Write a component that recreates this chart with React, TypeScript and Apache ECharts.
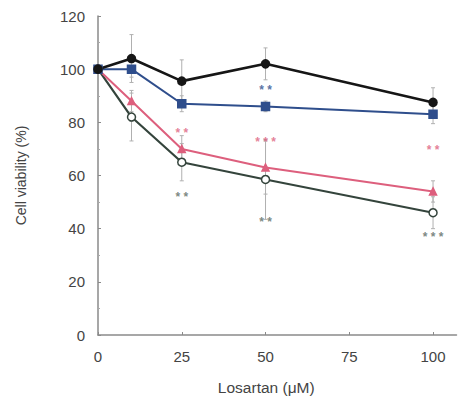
import React, { useEffect, useRef } from "react";
import * as echarts from "echarts";

const doses = [0, 10, 25, 50, 100];
const xTicks = [0, 25, 50, 75, 100];
const seriesBlack = [100, 104, 95.5, 102, 87.5];
const seriesBlue = [100, 100, 87, 86, 83];
const seriesPink = [100, 88, 70, 63, 54];
const seriesGreen = [100, 82, 65, 58.5, 46];
const errBlack = [0, 9, 8, 6, 5.5];
const errBlue = [0, 3, 3, 2, 3.5];
const errPink = [0, 4, 5, 10, 4];
const errGreen = [1, 9, 7, 15, 6];
const starsBlue = [[50, 92, "**"]];
const starsPink = [[25, 76, "**"], [50, 72.5, "***"], [100, 69.5, "**"]];
const starsGreen = [[25, 52, "**"], [50, 42.5, "**"], [100, 37, "***"]];

const C_BLACK = "#161616";
const C_BLUE = "#2f4e8c";
const C_PINK = "#dd5f7d";
const C_GREEN = "#34443c";
const C_ERR = "#b0b0b0";

function errSeries(vals: number[], errs: number[]) {
  const data = doses.map((d, i) => [d, vals[i] - errs[i], vals[i] + errs[i]]);
  return {
    type: "custom",
    z: 1,
    silent: true,
    data,
    renderItem: (params: any, api: any) => {
      const x = api.value(0);
      const lo = api.coord([x, api.value(1)]);
      const hi = api.coord([x, api.value(2)]);
      const w = 2;
      return {
        type: "group",
        children: [
          { type: "line", shape: { x1: lo[0], y1: lo[1], x2: hi[0], y2: hi[1] }, style: { stroke: C_ERR, lineWidth: 1 } },
          { type: "line", shape: { x1: lo[0] - w, y1: lo[1], x2: lo[0] + w, y2: lo[1] }, style: { stroke: C_ERR, lineWidth: 1 } },
          { type: "line", shape: { x1: hi[0] - w, y1: hi[1], x2: hi[0] + w, y2: hi[1] }, style: { stroke: C_ERR, lineWidth: 1 } },
        ],
      };
    },
  };
}

function starSeries(items: any[], color: string) {
  return {
    type: "scatter",
    symbolSize: 0,
    silent: true,
    z: 5,
    data: items.map((s) => ({ value: [s[0], s[1]], name: s[2] })),
    label: {
      show: true,
      position: "inside",
      formatter: (p: any) => p.name.split("").join(" "),
      color,
      fontSize: 12,
      fontFamily: "Liberation Sans, Arial, sans-serif",
      fontWeight: "bold",
    },
  };
}

function lineSeries(vals: number[], color: string, symbol: string, size: number, width: number, fill: string, z: number) {
  return {
    type: "line",
    z,
    data: doses.map((d, i) => [d, vals[i]]),
    symbol,
    symbolSize: size,
    showAllSymbol: true,
    lineStyle: { color, width },
    itemStyle: { color: fill, borderColor: color, borderWidth: 1.5 },
  };
}

export default function App() {
  const ref = useRef<HTMLDivElement>(null);
  useEffect(() => {
    if (!ref.current) return;
    document.body.style.margin = "0";
    const chart = echarts.init(ref.current, undefined, { renderer: "svg" });
    const font = "Liberation Sans, Arial, sans-serif";
    chart.setOption({
      animation: false,
      backgroundColor: "#ffffff",
      grid: { left: 98, right: 3.5, top: 16, bottom: 72 },
      xAxis: {
        type: "value",
        min: 0,
        max: 107,
        interval: 25,
        name: "Losartan (μM)",
        nameLocation: "middle",
        nameGap: 44,
        nameTextStyle: { color: "#444", fontSize: 15.5, fontFamily: font, padding: [0, 22, 0, 0] },
        axisLine: { lineStyle: { color: "#8a8a8a", width: 1.5 } },
        axisTick: { show: true, inside: true, length: 3, customValues: xTicks, lineStyle: { color: "#8a8a8a" } },
        axisLabel: { customValues: xTicks, color: "#444", fontSize: 15, fontFamily: font, margin: 14 },
        splitLine: { show: false },
      },
      yAxis: {
        type: "value",
        min: 0,
        max: 120,
        interval: 20,
        name: "Cell viability (%)",
        nameLocation: "middle",
        nameGap: 70,
        nameTextStyle: { color: "#444", fontSize: 14, fontFamily: font },
        axisLine: { show: true, lineStyle: { color: "#8a8a8a", width: 1.5 } },
        axisTick: { show: true, inside: true, length: 3, lineStyle: { color: "#8a8a8a" } },
        minorTick: { show: true, splitNumber: 2, length: 2, lineStyle: { color: "#aaa" } },
        axisLabel: { color: "#444", fontSize: 15, fontFamily: font, margin: 13 },
        splitLine: { show: false },
      },
      series: [
        errSeries(seriesBlack, errBlack),
        errSeries(seriesBlue, errBlue),
        errSeries(seriesPink, errPink),
        errSeries(seriesGreen, errGreen),
        lineSeries(seriesGreen, C_GREEN, "circle", 8, 2.2, "#ffffff", 3),
        lineSeries(seriesPink, C_PINK, "triangle", 7, 2, C_PINK, 3),
        lineSeries(seriesBlue, C_BLUE, "rect", 8, 2, C_BLUE, 4),
        lineSeries(seriesBlack, C_BLACK, "circle", 8, 2.6, C_BLACK, 4),
        starSeries(starsBlue, C_BLUE),
        starSeries(starsPink, C_PINK),
        starSeries(starsGreen, "#5a6a62"),
      ],
    });
    return () => chart.dispose();
  }, []);
  return <div ref={ref} style={{ width: 460, height: 407 }} />;
}
